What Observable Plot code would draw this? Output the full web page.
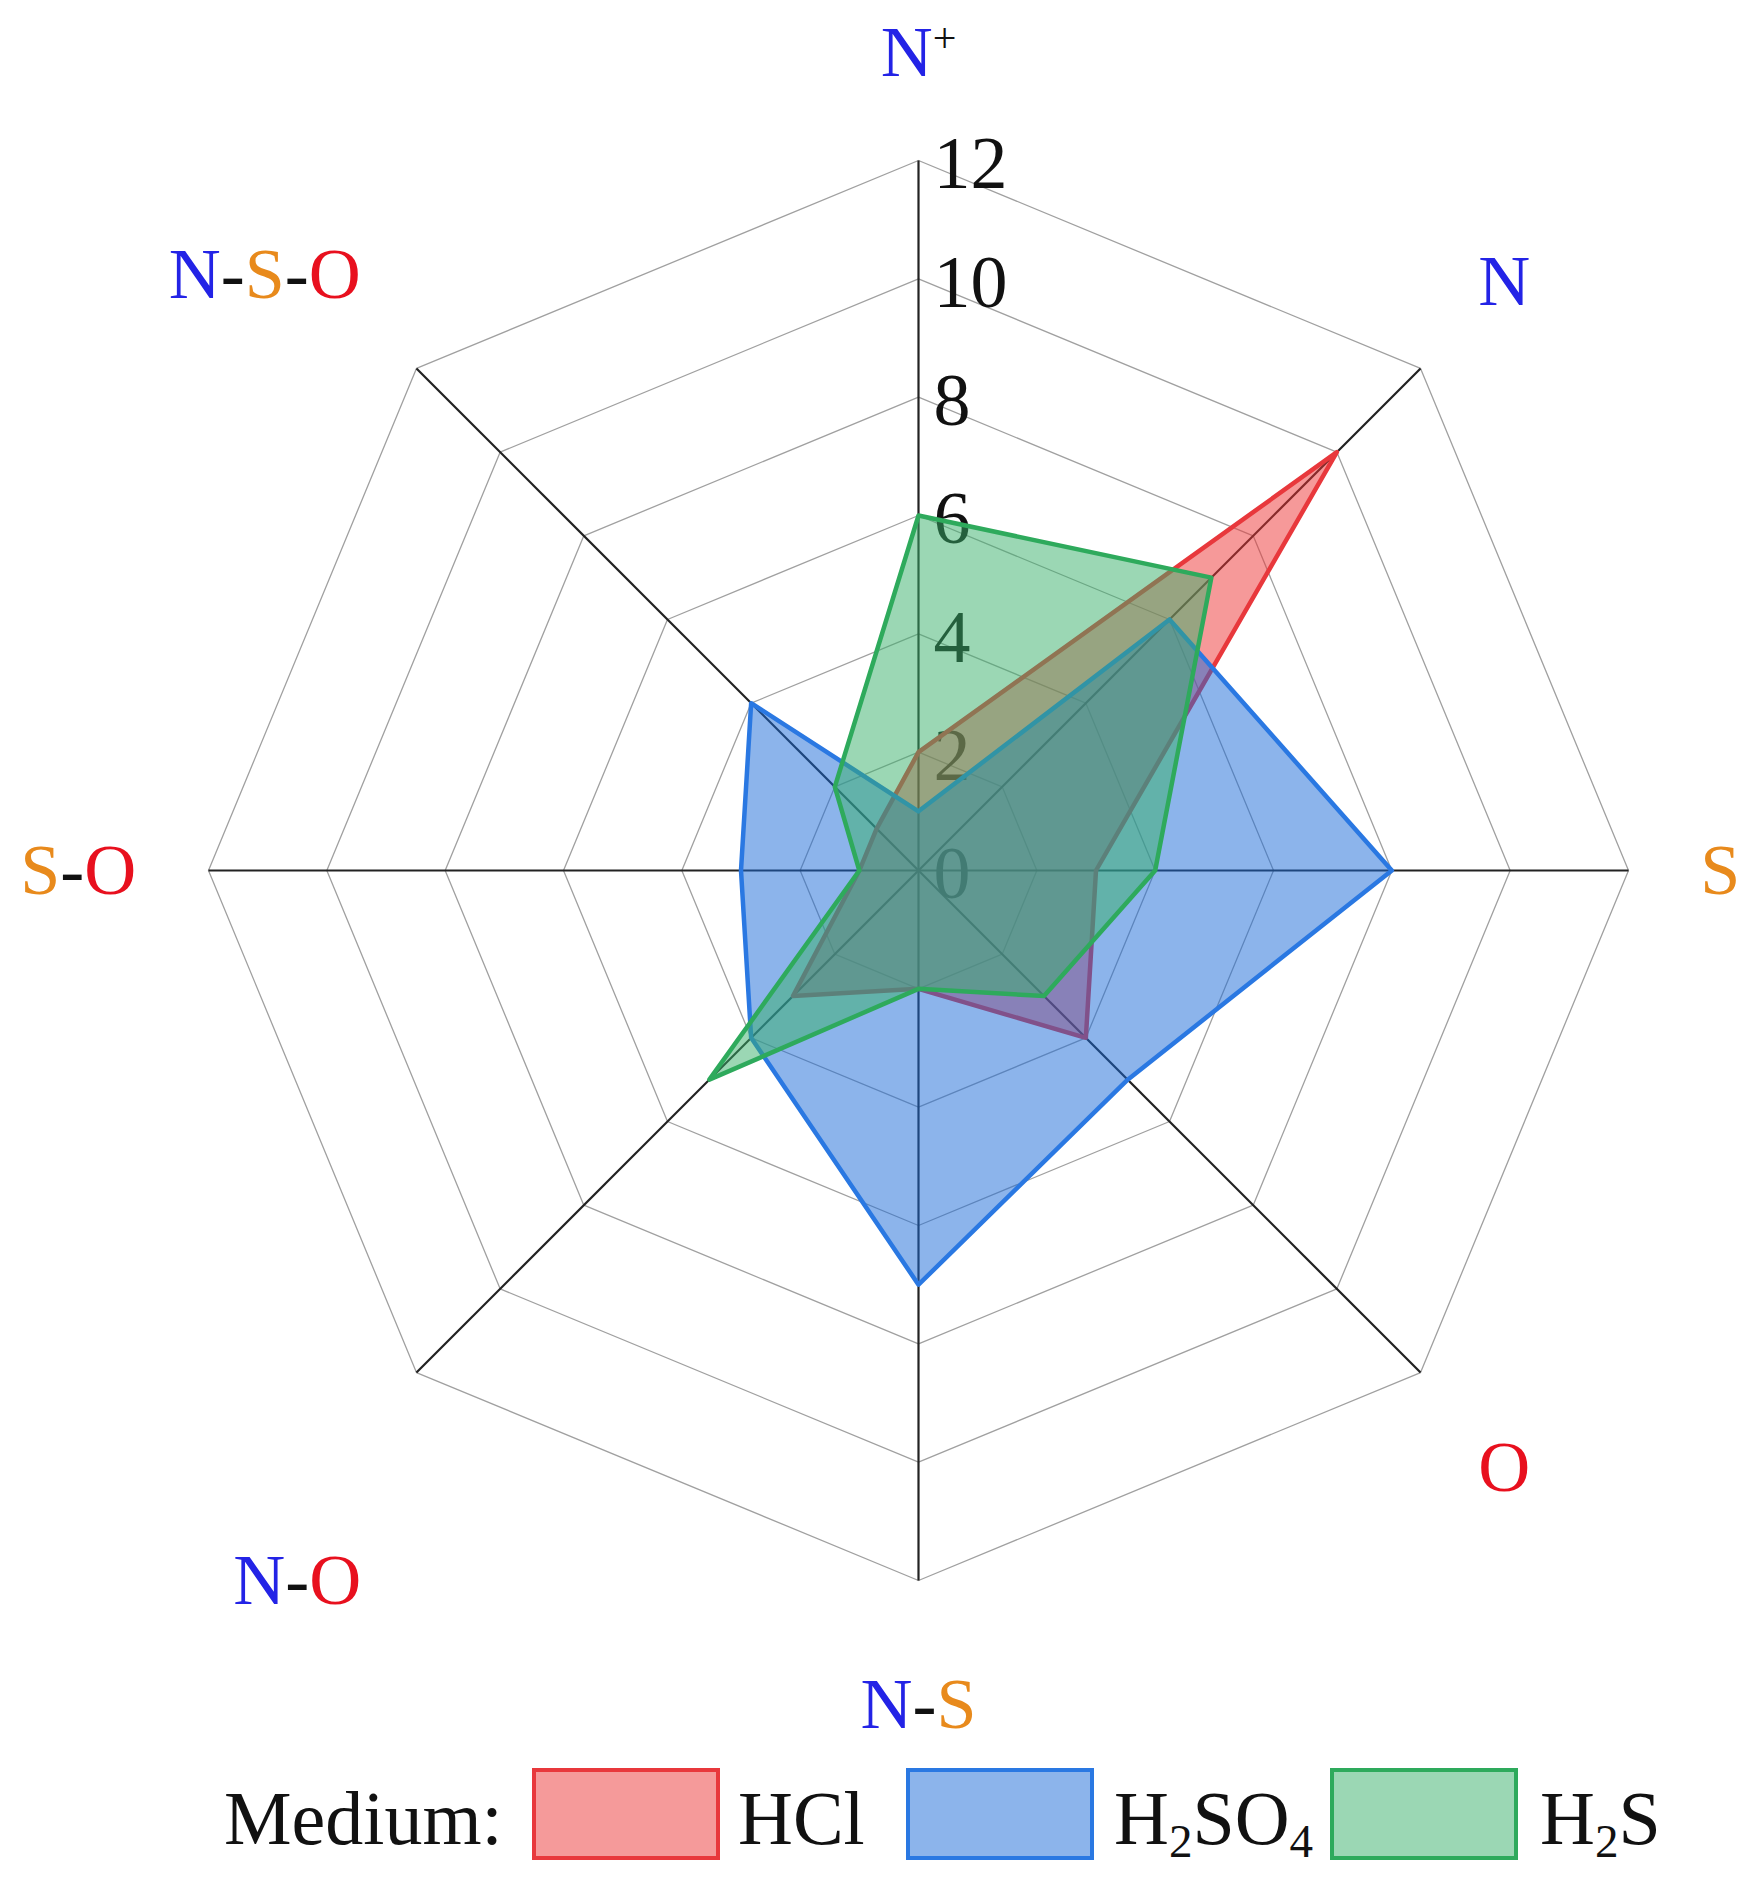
<!DOCTYPE html>
<html><head><meta charset="utf-8">
<script src="https://cdn.jsdelivr.net/npm/d3@7"></script>
<script src="https://cdn.jsdelivr.net/npm/@observablehq/plot@0.6"></script>
<style>
html,body{margin:0;padding:0;background:#fff;}
body{width:1742px;height:1881px;overflow:hidden;font-family:"Liberation Serif","DejaVu Serif",serif;}
#chart svg{display:block;}
#legend{position:relative;height:131px;width:1742px;font-size:76px;color:#111;}
#legend .t{position:absolute;top:30px;line-height:1;white-space:nowrap;}
#legend .b{position:absolute;top:18px;width:180px;height:84px;border:4px solid;}
#legend sub{font-size:0.62em;vertical-align:-0.28em;line-height:0;}
</style></head><body>
<div id="chart"></div>
<div id="legend"></div>
<script>
// ---- data ----
const axes = ["N+", "N", "S", "O", "N-S", "N-O", "S-O", "N-S-O"];
const hcl   = [2, 10, 3, 4, 2, 3, 1, 1];
const h2so4 = [1, 6, 8, 5, 7, 4, 3, 4];
const h2s   = [6, 7, 4, 3, 2, 5, 1, 2];
const ticks = [0, 2, 4, 6, 8, 10, 12];
const seriesNames = ["HCl", "H2SO4", "H2S"];

// ---- layout / style ----
const W = 1742, H = 1750, cx = 918, cy = 870, unit = 710 / 12;
const fills = ["#ee3333", "#1969d7", "#37af69"];
const strokes = ["#e8383c", "#2a78e2", "#2eaa5c"];
const legendFills = ["#f59a9a", "#8cb4eb", "#9bd7b4"];
const labelRadius = 14;
const labelOffsets = [[0,-0.18],[0,0.05],[-0.45,0],[0,-0.2],[0,-0.1],[-0.6,-2.1],[-0.2,0],[-1.15,0.17]];
const C = {N:"#2323e6", S:"#e88a1c", O:"#e8101e", d:"#111"};
const labelParts = {
  "N+": [["N",C.N],["+","#111",true]],
  "N": [["N",C.N]],
  "S": [["S",C.S]],
  "O": [["O",C.O]],
  "N-S": [["N",C.N],["-",C.d],["S",C.S]],
  "N-O": [["N",C.N],["-",C.d],["O",C.O]],
  "S-O": [["S",C.S],["-",C.d],["O",C.O]],
  "N-S-O": [["N",C.N],["-",C.d],["S",C.S],["-",C.d],["O",C.O]]
};

const ang = i => i * Math.PI / 4;
const px = (r, i) => r * Math.sin(ang(i));
const py = (r, i) => r * Math.cos(ang(i));

const rings = [];
ticks.filter(t => t > 0).forEach(t => axes.forEach((a, i) => rings.push({r: t, x: px(t, i), y: py(t, i)})));

const seriesVals = [hcl, h2so4, h2s];
const polys = seriesVals.map(vals => vals.map((v, i) => ({x: px(v, i), y: py(v, i)})));

const labels = axes.map((a, i) => ({
  name: a,
  x: px(labelRadius, i) + labelOffsets[i][0],
  y: py(labelRadius, i) + labelOffsets[i][1]
}));

const marks = [
  Plot.line(rings, {x: "x", y: "y", z: "r", curve: "linear-closed", stroke: "#a0a0a0", strokeWidth: 1.3}),
  Plot.link(axes, {x1: () => 0, y1: () => 0, x2: (d, i) => px(12, i), y2: (d, i) => py(12, i), stroke: "#222", strokeWidth: 2.2}),
  Plot.text(ticks, {x: () => 0, y: d => d, text: d => String(d), textAnchor: "start", dx: 15, dy: 4, fontSize: 74, fill: "#111"})
];
polys.forEach((p, k) => {
  marks.push(Plot.line(p, {x: "x", y: "y", curve: "linear-closed", fill: fills[k], fillOpacity: 0.5, stroke: strokes[k], strokeWidth: 4.5, strokeLinejoin: "round"}));
});
marks.push(Plot.text(labels, {x: "x", y: "y", text: "name", fontSize: 72, fill: "#111"}));

const chart = Plot.plot({
  width: W, height: H, margin: 0,
  x: {domain: [-cx / unit, (W - cx) / unit], axis: null},
  y: {domain: [-(H - cy) / unit, cy / unit], axis: null},
  style: {fontFamily: "'Liberation Serif', 'DejaVu Serif', serif", background: "#fff"},
  marks
});
document.getElementById("chart").appendChild(chart);

const ns = "http://www.w3.org/2000/svg";
chart.querySelectorAll("text").forEach(t => {
  const parts = labelParts[t.textContent];
  if (!parts) return;
  t.textContent = "";
  parts.forEach(([s, c, sup]) => {
    const ts = document.createElementNS(ns, "tspan");
    ts.textContent = s;
    ts.setAttribute("fill", c);
    if (sup) { ts.setAttribute("font-size", "42"); ts.setAttribute("dy", "-24"); }
    t.appendChild(ts);
  });
});

// ---- legend ----
const lg = document.getElementById("legend");
const legendLabels = ["HCl", "H<sub>2</sub>SO<sub>4</sub>", "H<sub>2</sub>S"];
const boxLeft = [532, 906, 1330], textLeft = [738, 1114, 1540];
lg.innerHTML = `<span class="t" style="left:224px">Medium:</span>` +
  seriesNames.map((n, k) =>
    `<div class="b" style="left:${boxLeft[k]}px;background:${legendFills[k]};border-color:${strokes[k]}"></div>` +
    `<span class="t" style="left:${textLeft[k]}px">${legendLabels[k]}</span>`).join("");
</script>
</body></html>
